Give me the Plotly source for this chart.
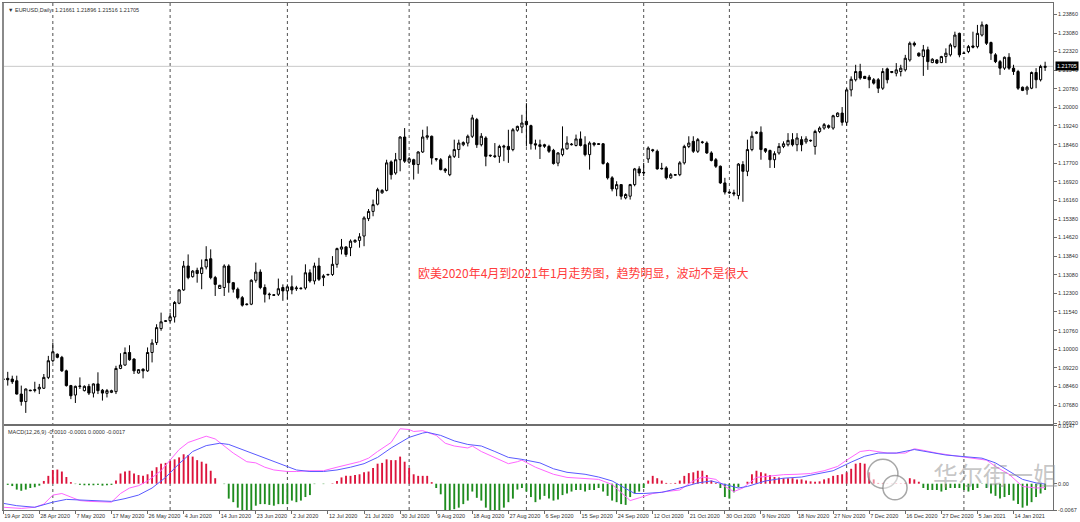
import plotly.graph_objects as go
import pandas as pd

# ---------------- data ----------------
date_labels = ["19 Apr 2020", "28 Apr 2020", "7 May 2020", "17 May 2020", "26 May 2020",
               "4 Jun 2020", "14 Jun 2020", "23 Jun 2020", "2 Jul 2020", "12 Jul 2020",
               "21 Jul 2020", "30 Jul 2020", "9 Aug 2020", "18 Aug 2020", "27 Aug 2020",
               "6 Sep 2020", "15 Sep 2020", "24 Sep 2020", "12 Oct 2020", "21 Oct 2020",
               "30 Oct 2020", "9 Nov 2020", "18 Nov 2020", "27 Nov 2020", "7 Dec 2020",
               "16 Dec 2020", "27 Dec 2020", "5 Jan 2021", "14 Jan 2021"]
label_step = 8

price_ticks = ["1.23860", "1.23080", "1.22320", "1.21540", "1.20780", "1.20000", "1.19240",
               "1.18460", "1.17700", "1.16920", "1.16160", "1.15380", "1.14620", "1.13840",
               "1.13080", "1.12300", "1.11540", "1.10760", "1.10000", "1.09220", "1.08460",
               "1.07680", "1.06920"]
macd_ticks = ["0.0147", "0.00", "-0.0067"]

# trading days shown (Sun-Fri sessions, gaps in the feed)
missing_days = ["2020-10-02", "2020-10-04", "2020-10-05", "2020-10-06", "2020-10-07",
                "2020-10-08", "2020-10-11", "2020-12-25"]
all_days = pd.date_range("2020-04-19", "2021-01-22", freq="D")
miss = set(pd.to_datetime(missing_days))
bar_dates = [d for d in all_days if d.weekday() != 5 and d not in miss]

opens = [
1.0876,1.0879,1.0876,1.0869,1.0814,1.0783,1.0830,1.0829,1.0835,1.0838,
1.0883,1.0952,1.0979,1.0966,1.0910,1.0849,1.0810,1.0845,1.0828,1.0846,
1.0818,1.0856,1.0830,1.0817,1.0821,1.0824,1.0920,1.0934,1.0986,1.0959,
1.0901,1.0917,1.0910,1.0986,1.1027,1.1085,1.1115,1.1118,1.1133,1.1190,
1.1245,1.1344,1.1300,1.1326,1.1313,1.1340,1.1374,1.1296,1.1251,1.1255,
1.1344,1.1275,1.1248,1.1213,1.1184,1.1186,1.1285,1.1319,1.1255,1.1225,
1.1225,1.1227,1.1255,1.1241,1.1258,1.1250,1.1250,1.1253,1.1316,1.1282,
1.1344,1.1296,1.1307,1.1309,1.1351,1.1414,1.1423,1.1420,1.1444,1.1450,
1.1468,1.1540,1.1570,1.1600,1.1647,1.1657,1.1775,1.1729,1.1784,1.1878,
1.1774,1.1784,1.1764,1.1816,1.1877,1.1881,1.1788,1.1784,1.1745,1.1722,
1.1798,1.1826,1.1846,1.1853,1.1881,1.1950,1.1846,1.1874,1.1800,1.1800,
1.1798,1.1836,1.1839,1.1826,1.1906,1.1919,1.1943,1.1925,1.1850,1.1846,
1.1846,1.1839,1.1823,1.1770,1.1805,1.1829,1.1846,1.1843,1.1870,1.1846,
1.1805,1.1853,1.1850,1.1850,1.1768,1.1709,1.1663,1.1681,1.1626,1.1633,
1.1681,1.1746,1.1729,1.1787,1.1825,1.1819,1.1746,1.1750,1.1709,1.1720,
1.1722,1.1771,1.1839,1.1860,1.1819,1.1857,1.1853,1.1812,1.1784,1.1757,
1.1688,1.1650,1.1647,1.1636,1.1764,1.1736,1.1826,1.1893,1.1898,1.1829,
1.1822,1.1784,1.1812,1.1839,1.1846,1.1867,1.1846,1.1867,1.1858,1.1862,
1.1839,1.1901,1.1915,1.1925,1.1915,1.1963,1.1977,1.1939,1.2073,1.2115,
1.2149,1.2129,1.2126,1.2115,1.2115,1.2080,1.2160,1.2145,1.2142,1.2149,
1.2156,1.2197,1.2266,1.2225,1.2211,1.2239,1.2186,1.2197,1.2186,1.2211,
1.2218,1.2252,1.2307,1.2226,1.2232,1.2255,1.2252,1.2300,1.2342,1.2269,
1.2218,1.2190,1.2163,1.2208,1.2163,1.2149,1.2084,1.2073,1.2080,1.2145,
1.2115,1.21661]

highs = [
1.0880,1.0906,1.0890,1.0890,1.0849,1.0837,1.0832,1.0865,1.0856,1.0897,
1.0972,1.1027,1.0982,1.0972,1.0915,1.0852,1.0849,1.0883,1.0850,1.0856,
1.0858,1.0904,1.0835,1.0835,1.0832,1.0931,1.0983,1.1007,1.1016,1.0962,
1.0917,1.0920,1.1007,1.1041,1.1103,1.1151,1.1120,1.1151,1.1199,1.1248,
1.1365,1.1392,1.1327,1.1337,1.1371,1.1426,1.1413,1.1303,1.1266,1.1351,
1.1351,1.1278,1.1255,1.1220,1.1189,1.1289,1.1358,1.1330,1.1268,1.1234,
1.1227,1.1292,1.1268,1.1268,1.1305,1.1262,1.1255,1.1351,1.1330,1.1358,
1.1378,1.1310,1.1312,1.1385,1.1420,1.1456,1.1426,1.1454,1.1455,1.1480,
1.1550,1.1580,1.1619,1.1668,1.1662,1.1784,1.1781,1.1812,1.1881,1.1915,
1.1795,1.1788,1.1819,1.1908,1.1922,1.1884,1.1791,1.1791,1.1750,1.1805,
1.1867,1.1867,1.1860,1.1888,1.1970,1.1957,1.1894,1.1881,1.1805,1.1853,
1.1846,1.1846,1.1908,1.1915,1.1925,1.1970,1.2018,1.1929,1.1867,1.1867,
1.1850,1.1846,1.1829,1.1815,1.1922,1.1881,1.1853,1.1888,1.1901,1.1881,
1.1860,1.1856,1.1853,1.1853,1.1774,1.1716,1.1695,1.1681,1.1645,1.1684,
1.1750,1.1757,1.1771,1.1839,1.1829,1.1826,1.1771,1.1757,1.1729,1.1725,
1.1778,1.1846,1.1881,1.1881,1.1874,1.1862,1.1860,1.1819,1.1791,1.1760,
1.1709,1.1653,1.1660,1.1770,1.1778,1.1867,1.1901,1.1902,1.1922,1.1832,
1.1826,1.1819,1.1853,1.1860,1.1894,1.1894,1.1894,1.1881,1.1881,1.1867,
1.1908,1.1922,1.1936,1.1930,1.1970,1.1980,1.2002,1.2080,1.2129,1.2177,
1.2181,1.2131,1.2135,1.2122,1.2122,1.2163,1.2165,1.2151,1.2184,1.2177,
1.2218,1.2273,1.2273,1.2228,1.2259,1.2252,1.2204,1.2200,1.2214,1.2245,
1.2266,1.2314,1.2310,1.2228,1.2259,1.2314,1.2342,1.2356,1.2346,1.2273,
1.2225,1.2197,1.2211,1.2225,1.2177,1.2156,1.2087,1.2090,1.2149,1.2163,
1.2177,1.21896]

lows = [
1.0872,1.0849,1.0856,1.0812,1.0766,1.0736,1.0826,1.0821,1.0814,1.0835,
1.0876,1.0945,1.0962,1.0906,1.0845,1.0793,1.0777,1.0835,1.0825,1.0810,
1.0800,1.0814,1.0787,1.0800,1.0818,1.0814,1.0917,1.0931,1.0952,1.0897,
1.0899,1.0879,1.0906,1.0945,1.1017,1.1076,1.1112,1.1110,1.1110,1.1186,
1.1241,1.1289,1.1296,1.1275,1.1248,1.1330,1.1289,1.1220,1.1249,1.1220,
1.1234,1.1234,1.1206,1.1176,1.1181,1.1182,1.1275,1.1248,1.1193,1.1206,
1.1220,1.1220,1.1200,1.1206,1.1227,1.1241,1.1247,1.1246,1.1275,1.1268,
1.1282,1.1261,1.1305,1.1303,1.1337,1.1392,1.1382,1.1385,1.1440,1.1420,
1.1426,1.1530,1.1550,1.1595,1.1643,1.1653,1.1702,1.1722,1.1736,1.1771,
1.1767,1.1702,1.1726,1.1812,1.1867,1.1764,1.1777,1.1740,1.1729,1.1716,
1.1791,1.1791,1.1840,1.1839,1.1874,1.1833,1.1839,1.1757,1.1795,1.1791,
1.1771,1.1778,1.1771,1.1819,1.1900,1.1894,1.1839,1.1826,1.1826,1.1787,
1.1833,1.1812,1.1764,1.1757,1.1798,1.1826,1.1843,1.1839,1.1839,1.1798,
1.1743,1.1839,1.1845,1.1764,1.1702,1.1653,1.1633,1.1619,1.1620,1.1619,
1.1674,1.1716,1.1716,1.1771,1.1815,1.1743,1.1743,1.1702,1.1705,1.1718,
1.1716,1.1764,1.1832,1.1812,1.1812,1.1850,1.1808,1.1777,1.1750,1.1684,
1.1640,1.1643,1.1633,1.1620,1.1610,1.1716,1.1819,1.1890,1.1784,1.1812,
1.1750,1.1750,1.1805,1.1832,1.1839,1.1839,1.1819,1.1819,1.1850,1.1858,
1.1805,1.1894,1.1908,1.1912,1.1908,1.1960,1.1925,1.1925,1.2046,1.2108,
1.2115,1.2118,1.2080,1.2095,1.2060,1.2073,1.2100,1.2142,1.2129,1.2129,
1.2149,1.2190,1.2252,1.2210,1.2131,1.2156,1.2184,1.2180,1.2184,1.2184,
1.2211,1.2245,1.2208,1.2222,1.2225,1.2245,1.2245,1.2294,1.2259,1.2197,
1.2184,1.2135,1.2156,1.2156,1.2135,1.2073,1.2068,1.2053,1.2076,1.2080,
1.2108,1.21516]

closes = [
1.0875,1.0873,1.0865,1.0814,1.0783,1.0835,1.0828,1.0832,1.0842,1.0883,
1.0952,1.0989,1.0966,1.0910,1.0849,1.0807,1.0846,1.0847,1.0846,1.0818,
1.0856,1.0828,1.0818,1.0828,1.0828,1.0920,1.0934,1.0986,1.0956,1.0910,
1.0915,1.0910,1.0986,1.1025,1.1089,1.1113,1.1117,1.1134,1.1193,1.1245,
1.1344,1.1296,1.1323,1.1313,1.1337,1.1371,1.1296,1.1268,1.1264,1.1344,
1.1275,1.1248,1.1213,1.1182,1.1186,1.1285,1.1319,1.1255,1.1227,1.1227,
1.1223,1.1250,1.1241,1.1258,1.1245,1.1253,1.1252,1.1316,1.1282,1.1344,
1.1289,1.1303,1.1309,1.1351,1.1416,1.1423,1.1392,1.1447,1.1450,1.1465,
1.1543,1.1570,1.1598,1.1660,1.1657,1.1771,1.1722,1.1784,1.1878,1.1778,
1.1788,1.1764,1.1816,1.1878,1.1883,1.1791,1.1786,1.1743,1.1738,1.1798,
1.1826,1.1853,1.1855,1.1881,1.1957,1.1846,1.1881,1.1798,1.1802,1.1797,
1.1839,1.1840,1.1826,1.1908,1.1922,1.1936,1.1929,1.1850,1.1845,1.1839,
1.1840,1.1819,1.1768,1.1812,1.1829,1.1853,1.1848,1.1870,1.1843,1.1805,
1.1853,1.1846,1.1848,1.1768,1.1709,1.1663,1.1681,1.1633,1.1640,1.1681,
1.1746,1.1729,1.1731,1.1832,1.1822,1.1746,1.1748,1.1709,1.1722,1.1722,
1.1771,1.1839,1.1853,1.1819,1.1867,1.1856,1.1812,1.1781,1.1757,1.1688,
1.1650,1.1647,1.1643,1.1766,1.1736,1.1826,1.1881,1.1898,1.1826,1.1819,
1.1784,1.1809,1.1839,1.1850,1.1864,1.1846,1.1874,1.1846,1.1870,1.1864,
1.1901,1.1915,1.1929,1.1918,1.1966,1.1977,1.1939,1.2073,1.2117,1.2149,
1.2122,1.2120,1.2115,1.2101,1.2080,1.2149,1.2115,1.2149,1.2156,1.2163,
1.2204,1.2266,1.2259,1.2214,1.2239,1.2190,1.2200,1.2184,1.2211,1.2225,
1.2259,1.2300,1.2218,1.2224,1.2252,1.2250,1.2307,1.2342,1.2266,1.2225,
1.2190,1.2163,1.2208,1.2163,1.2149,1.2080,1.2071,1.2084,1.2145,1.2115,
1.2170,1.21705]

macd_hist = [
0.0000,-0.0003,-0.0006,-0.0015,-0.0018,-0.0015,-0.0011,-0.0009,-0.0005,0.0007,
0.0020,0.0035,0.0036,0.0031,0.0017,0.0004,-0.0001,-0.0003,-0.0004,-0.0004,
-0.0004,-0.0003,-0.0005,-0.0004,-0.0003,0.0008,0.0026,0.0031,0.0033,0.0026,
0.0022,0.0020,0.0024,0.0033,0.0042,0.0051,0.0053,0.0058,0.0062,0.0067,
0.0075,0.0073,0.0069,0.0060,0.0056,0.0051,0.0033,0.0014,0.0000,-0.0001,
-0.0038,-0.0047,-0.0061,-0.0072,-0.0074,-0.0070,-0.0056,-0.0052,-0.0052,-0.0054,
-0.0056,-0.0052,-0.0052,-0.0052,-0.0043,-0.0047,-0.0043,-0.0034,-0.0029,-0.0001,
0.0000,-0.0001,0.0000,0.0001,0.0007,0.0016,0.0020,0.0020,0.0022,0.0024,
0.0029,0.0031,0.0040,0.0051,0.0053,0.0062,0.0060,0.0060,0.0069,0.0056,
0.0040,0.0024,0.0020,0.0020,0.0020,0.0004,-0.0011,-0.0027,-0.0067,-0.0067,
-0.0065,-0.0061,-0.0052,-0.0043,-0.0020,-0.0036,-0.0043,-0.0061,-0.0067,-0.0070,
-0.0067,-0.0061,-0.0047,-0.0038,-0.0015,-0.0011,-0.0020,-0.0034,-0.0047,-0.0040,
-0.0031,-0.0038,-0.0043,-0.0040,-0.0029,-0.0025,-0.0020,-0.0016,-0.0016,-0.0020,
-0.0016,-0.0016,-0.0011,-0.0020,-0.0031,-0.0043,-0.0047,-0.0052,-0.0054,-0.0034,
-0.0025,-0.0020,-0.0011,0.0008,0.0020,0.0014,0.0008,0.0002,0.0001,0.0002,
0.0008,0.0020,0.0027,0.0029,0.0033,0.0033,0.0022,0.0008,0.0002,-0.0011,
-0.0034,-0.0038,-0.0022,-0.0009,0.0000,0.0005,0.0024,0.0033,0.0029,0.0026,
0.0022,0.0017,0.0016,0.0014,0.0014,0.0014,0.0011,0.0011,0.0008,0.0006,
0.0005,0.0006,0.0011,0.0014,0.0020,0.0022,0.0024,0.0029,0.0038,0.0051,
0.0053,0.0051,0.0029,0.0011,0.0002,0.0002,0.0001,0.0001,0.0001,0.0001,
0.0002,0.0014,0.0011,0.0005,-0.0011,-0.0016,-0.0016,-0.0016,-0.0020,-0.0016,
-0.0011,-0.0011,-0.0011,-0.0016,-0.0020,-0.0016,-0.0011,-0.0001,-0.0011,-0.0025,
-0.0031,-0.0038,-0.0034,-0.0029,-0.0043,-0.0052,-0.0061,-0.0056,-0.0047,-0.0034,
-0.0025,-0.0016]

# MACD signal lines (read at the listed bars)
dif_bars = [0,4,7,9,11,13,15,17,19,22,24,26,28,30,32,35,37,39,41,43,45,47,49,51,54,56,58,60,63,65,
            68,71,74,77,79,81,83,86,88,90,91,93,96,98,100,103,104,106,109,112,114,115,118,119,122,125,129,132,135,138,
            139,141,144,147,150,153,155,158,160,162,164,167,170,173,176,179,182,185,187,190,192,196,200,202,204,207,211,215,218,220,
            223,226,229,231]
dif_vals = [-0.0060,-0.0063,-0.0060,-0.0052,-0.0029,-0.0025,-0.0034,-0.0043,-0.0045,-0.0047,
            -0.0047,-0.0025,-0.0011,-0.0005,0.0007,0.0033,0.0060,0.0087,0.0105,0.0114,
            0.0121,0.0114,0.0096,0.0078,0.0056,0.0053,0.0042,0.0035,0.0031,0.0031,
            0.0033,0.0033,0.0042,0.0051,0.0056,0.0065,0.0082,0.0105,0.0140,0.0138,
            0.0133,0.0135,0.0123,0.0103,0.0096,0.0091,0.0096,0.0082,0.0067,0.0051,
            0.0056,0.0060,0.0042,0.0038,0.0024,0.0016,0.0014,0.0011,-0.0002,-0.0034,
            -0.0043,-0.0036,-0.0025,-0.0020,-0.0016,0.0007,0.0017,0.0011,-0.0007,-0.0020,
            -0.0011,0.0016,0.0020,0.0023,0.0024,0.0026,0.0033,0.0044,0.0060,0.0082,
            0.0085,0.0078,0.0078,0.0089,0.0085,0.0078,0.0071,0.0065,0.0060,0.0044,
            0.0024,-0.0007,-0.0011,-0.0010]
dea_bars = [0,3,7,11,14,17,21,24,27,30,33,36,39,42,45,48,50,53,56,59,
            62,65,68,71,74,77,80,83,86,90,93,94,97,100,103,106,109,112,115,119,
            122,125,129,132,135,138,140,142,146,150,154,157,160,163,165,169,173,177,180,184,
            188,191,194,198,202,206,209,213,217,220,223,226,229,231]
dea_vals = [-0.0050,-0.0056,-0.0060,-0.0047,-0.0040,-0.0041,-0.0044,-0.0045,-0.0038,-0.0029,
            -0.0011,0.0016,0.0051,0.0082,0.0097,0.0103,0.0100,0.0087,0.0073,0.0060,
            0.0046,0.0035,0.0031,0.0031,0.0035,0.0042,0.0051,0.0067,0.0091,0.0118,
            0.0129,0.0131,0.0123,0.0109,0.0100,0.0096,0.0082,0.0067,0.0062,0.0053,
            0.0038,0.0029,0.0024,0.0017,0.0007,-0.0011,-0.0025,-0.0025,-0.0022,-0.0011,
            0.0002,0.0007,-0.0002,-0.0011,-0.0007,0.0007,0.0014,0.0017,0.0024,0.0033,
            0.0055,0.0070,0.0078,0.0078,0.0087,0.0080,0.0073,0.0069,0.0065,0.0053,
            0.0033,0.0011,0.0002,-0.0001]

last_price = 1.21705
header_text = "▼ EURUSD,Daily  1.21661 1.21896 1.21516 1.21705"
macd_text = "MACD(12,26,9) -0.0010 -0.0001 0.0000 -0.0017"
note_text = "欧美2020年4月到2021年1月走势图，趋势明显，波动不是很大"
watermark_text = "华尔街一姐"

# ---------------- figure ----------------
n = len(closes)
idx = list(range(n))
small = dict(family="Liberation Sans, Arial, sans-serif", size=5.5, color="#303030")

fig = go.Figure()
fig.add_trace(go.Candlestick(
    x=idx, open=opens, high=highs, low=lows, close=closes,
    increasing=dict(line=dict(color="#000000", width=1), fillcolor="#ffffff"),
    decreasing=dict(line=dict(color="#000000", width=1), fillcolor="#000000"),
    whiskerwidth=0, xaxis="x", yaxis="y", hoverinfo="skip", showlegend=False))

hist_colors = ["#dc143c" if v > 0 else "#1e8c1e" for v in macd_hist]
fig.add_trace(go.Bar(x=idx, y=macd_hist, marker=dict(color=hist_colors, line=dict(width=0)),
                     width=0.42, xaxis="x2", yaxis="y2", hoverinfo="skip", showlegend=False))
fig.add_trace(go.Scatter(x=dif_bars, y=dif_vals, mode="lines",
                         line=dict(color="#ff66ff", width=1), xaxis="x2", yaxis="y2",
                         hoverinfo="skip", showlegend=False))
fig.add_trace(go.Scatter(x=dea_bars, y=dea_vals, mode="lines",
                         line=dict(color="#5a5aff", width=1), xaxis="x2", yaxis="y2",
                         hoverinfo="skip", showlegend=False))

xr = [-0.05, 232.75]
frame = "#6e6e6e"
fig.update_layout(
    width=1080, height=522,
    margin=dict(l=3, r=27, t=3, b=12, autoexpand=False),
    paper_bgcolor="#ffffff", plot_bgcolor="#ffffff",
    showlegend=False, hovermode=False, boxgap=0.3,
    xaxis=dict(domain=[0, 1], range=xr, anchor="y", showticklabels=False, ticks="",
               showgrid=False, zeroline=False, showline=True, mirror=True,
               linecolor=frame, linewidth=1, rangeslider=dict(visible=False), fixedrange=True),
    yaxis=dict(domain=[0.1696, 1], range=[1.0690, 1.24327], side="right", anchor="x",
               tickvals=[float(t) for t in price_ticks], ticktext=price_ticks,
               ticks="outside", ticklen=3, tickcolor=frame, tickfont=small,
               showgrid=False, zeroline=False, showline=True, mirror=True,
               linecolor=frame, linewidth=1),
    xaxis2=dict(domain=[0, 1], range=xr, anchor="y2", matches="x",
                tickvals=[k * label_step for k in range(len(date_labels))], ticktext=date_labels,
                ticklabelposition="outside right", ticks="outside", ticklen=3, tickangle=0,
                tickcolor=frame, tickfont=small,
                showgrid=False, zeroline=False, showline=True, mirror=True,
                linecolor=frame, linewidth=1),
    yaxis2=dict(domain=[0, 0.1657], range=[-0.0067, 0.0147], side="right", anchor="x2",
                tickvals=[float(t) for t in macd_ticks], ticktext=macd_ticks,
                ticks="outside", ticklen=3, tickcolor=frame, tickfont=small,
                showgrid=False, zeroline=False, showline=True, mirror=True,
                linecolor=frame, linewidth=1),
)

shapes = []
# month separators (dotted)
for i in range(1, n):
    if bar_dates[i].month != bar_dates[i - 1].month:
        shapes.append(dict(type="line", xref="x", yref="paper", x0=i, x1=i, y0=0, y1=1,
                           line=dict(color="#505050", width=1, dash="dot"), layer="below"))
# current price line
shapes.append(dict(type="line", xref="x domain", yref="y", x0=0, x1=1, y0=last_price, y1=last_price,
                   line=dict(color="#c8c8c8", width=1), layer="below"))
# thick pane separator
shapes.append(dict(type="line", xref="paper", yref="paper", x0=0, x1=1, y0=0.1677, y1=0.1677,
                   line=dict(color="#6e6e6e", width=2)))
# left window frame
shapes.append(dict(type="line", xref="paper", yref="paper", x0=0, x1=0, y0=0, y1=1,
                   line=dict(color="#8a8a8a", width=2)))
# watermark logo (two speech bubbles)
shapes.append(dict(type="circle", xref="paper", yref="paper", x0=0.8237, x1=0.8523, y0=0.043, y1=0.100,
                   line=dict(color="rgba(130,130,130,0.7)", width=1.5), fillcolor="rgba(255,255,255,0.5)"))
shapes.append(dict(type="circle", xref="paper", yref="paper", x0=0.8380, x1=0.8610, y0=0.020, y1=0.068,
                   line=dict(color="rgba(130,130,130,0.7)", width=1.5), fillcolor="rgba(255,255,255,0.5)"))
fig.update_layout(shapes=shapes)

annotations = [
    dict(text=header_text, xref="paper", yref="paper", x=0, y=1, xanchor="left", yanchor="top",
         xshift=3, yshift=-2, showarrow=False, font=small),
    dict(text=macd_text, xref="paper", yref="y2 domain", x=0, y=1, xanchor="left", yanchor="top",
         xshift=3, yshift=-1, showarrow=False, font=small),
    dict(text=f"{last_price:.5f}", xref="paper", yref="y", x=1, y=last_price, xanchor="left",
         yanchor="middle", xshift=2, showarrow=False, bgcolor="#000000", borderpad=1,
         font=dict(family="Liberation Sans, Arial, sans-serif", size=5.5, color="#ffffff")),
    dict(text=note_text, xref="paper", yref="paper", x=0.3933, y=0.4675, xanchor="left",
         yanchor="middle", showarrow=False,
         font=dict(family="Noto Sans CJK SC", size=12, color="#ff3b3b")),
    dict(text=watermark_text, xref="paper", yref="paper", x=0.9457, y=0.071, xanchor="center",
         yanchor="middle", showarrow=False,
         font=dict(family="Noto Sans CJK SC", size=25, color="rgba(150,150,150,0.55)")),
]
fig.update_layout(annotations=annotations)

fig.write_html("out.html",
               config={"displayModeBar": False, "staticPlot": True},
               post_script="document.body.style.margin='0';document.body.style.overflow='hidden';"
                           "document.documentElement.style.overflow='hidden';")
